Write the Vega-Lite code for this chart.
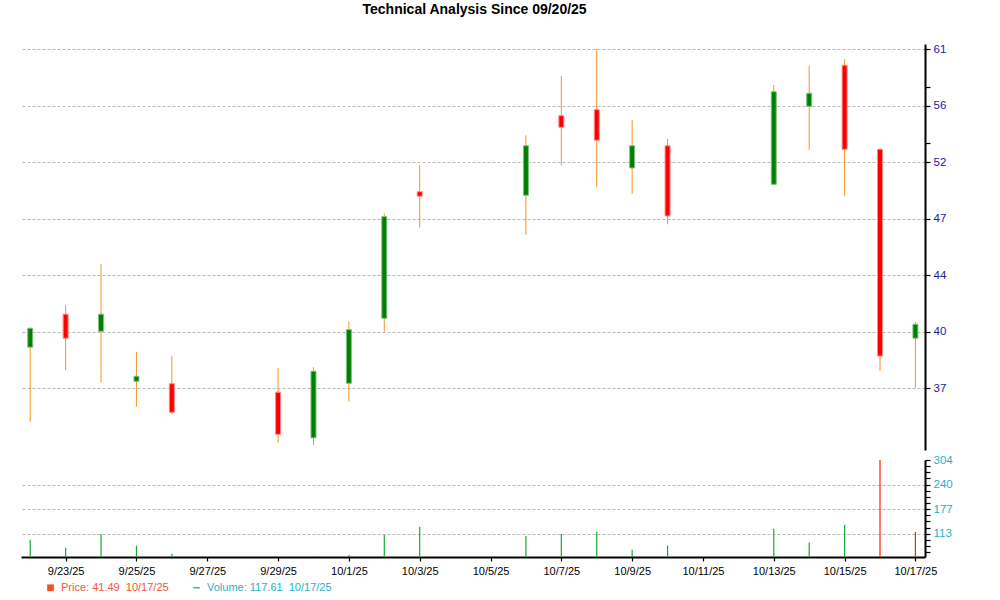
{
  "$schema": "https://vega.github.io/schema/vega-lite/v6.json",
  "padding": {"left": 21, "top": 3, "right": 0, "bottom": 0},
  "background": "white",
  "title": {"text": "Technical Analysis Since 09/20/25", "font": "Liberation Sans", "fontSize": 14, "fontWeight": "bold", "color": "#000000", "anchor": "middle", "offset": 26, "dx": -12},
  "config": {
    "view": {"stroke": null},
    "axis": {"domainColor": "#000000", "domainWidth": 2, "tickColor": "#000000", "tickWidth": 1.2, "tickSize": 5, "labelFont": "Liberation Sans", "labelFontSize": 11, "gridColor": "#b8b8b8", "gridDash": [3, 2], "gridWidth": 1}
  },
  "datasets": {
    "ohlc": [
      {"date": "2025-09-22", "open": 39.21, "high": 40.38, "low": 35.12, "close": 40.32, "volume": 97.5, "vdir": "up"},
      {"date": "2025-09-23", "open": 41.17, "high": 41.72, "low": 37.89, "close": 39.73, "volume": 76.7, "vdir": "up"},
      {"date": "2025-09-24", "open": 40.14, "high": 44.32, "low": 37.21, "close": 41.17, "volume": 112, "vdir": "up"},
      {"date": "2025-09-25", "open": 37.28, "high": 38.92, "low": 35.91, "close": 37.56, "volume": 82, "vdir": "up"},
      {"date": "2025-09-26", "open": 37.15, "high": 38.69, "low": 35.51, "close": 35.61, "volume": 61, "vdir": "up"},
      {"date": "2025-09-29", "open": 36.68, "high": 38.01, "low": 34.05, "close": 34.47, "volume": 53, "vdir": "up"},
      {"date": "2025-09-30", "open": 34.29, "high": 38.06, "low": 33.92, "close": 37.84, "volume": 55, "vdir": "up"},
      {"date": "2025-10-01", "open": 37.17, "high": 40.74, "low": 36.18, "close": 40.24, "volume": 58, "vdir": "up"},
      {"date": "2025-10-02", "open": 40.92, "high": 47.79, "low": 40.12, "close": 47.55, "volume": 110.4, "vdir": "up"},
      {"date": "2025-10-03", "open": 49.34, "high": 51.31, "low": 46.79, "close": 49.01, "volume": 131, "vdir": "up"},
      {"date": "2025-10-06", "open": 49.08, "high": 53.63, "low": 46.3, "close": 52.81, "volume": 107, "vdir": "up"},
      {"date": "2025-10-07", "open": 55.21, "high": 58.54, "low": 51.28, "close": 54.27, "volume": 112, "vdir": "up"},
      {"date": "2025-10-08", "open": 55.7, "high": 60.9, "low": 49.71, "close": 53.24, "volume": 118, "vdir": "up"},
      {"date": "2025-10-09", "open": 51.1, "high": 54.86, "low": 49.18, "close": 52.81, "volume": 71.5, "vdir": "up"},
      {"date": "2025-10-10", "open": 52.81, "high": 53.34, "low": 47.02, "close": 47.6, "volume": 82, "vdir": "up"},
      {"date": "2025-10-13", "open": 49.88, "high": 57.77, "low": 49.85, "close": 57.2, "volume": 126, "vdir": "up"},
      {"date": "2025-10-14", "open": 55.98, "high": 59.42, "low": 52.5, "close": 57.07, "volume": 90, "vdir": "up"},
      {"date": "2025-10-15", "open": 59.48, "high": 60.03, "low": 49.05, "close": 52.53, "volume": 136, "vdir": "up"},
      {"date": "2025-10-16", "open": 52.53, "high": 52.6, "low": 37.86, "close": 38.7, "volume": 304, "vdir": "down"},
      {"date": "2025-10-17", "open": 39.73, "high": 40.7, "low": 36.93, "close": 40.56, "volume": 117.61, "vdir": "down"}
    ]
  },
  "spacing": 4,
  "vconcat": [
    {
      "width": 904,
      "height": 406,
      "data": {"name": "ohlc"},
      "encoding": {
        "x": {"field": "date", "type": "temporal", "scale": {"type": "utc", "padding": 0, "domain": [{"year": 2025, "month": 9, "date": 21, "hours": 17, "minutes": 45, "utc": true}, {"year": 2025, "month": 10, "date": 17, "hours": 6, "minutes": 30, "utc": true}]}, "axis": null}
      },
      "layer": [
        {
          "mark": {"type": "rule", "color": "#f7941e", "strokeWidth": 1},
          "encoding": {
            "y": {"field": "low", "type": "quantitative", "scale": {"type": "log", "domain": [33.68, 61.38], "nice": false, "padding": 0},
              "axis": {"orient": "right", "title": null, "values": [36.9, 40.11, 43.61, 47.41, 51.54, 56.02, 60.9, 57.6, 53.0],
                "labelExpr": "datum.value == 57.6 || datum.value == 53 ? '' : format(datum.value, '.0f')",
                "gridOpacity": {"condition": {"test": "datum.value == 57.6 || datum.value == 53", "value": 0}, "value": 1},
                "labelColor": "#1a1aa6", "labelFontSize": 11.5, "labelPadding": 3}},
            "y2": {"field": "high"}
          }
        },
        {
          "mark": {"type": "bar", "size": 5, "strokeWidth": 1},
          "encoding": {
            "y": {"field": "open", "type": "quantitative", "scale": {"type": "log", "domain": [33.68, 61.38], "nice": false, "padding": 0},
              "axis": {"orient": "right", "title": null, "values": [36.9, 40.11, 43.61, 47.41, 51.54, 56.02, 60.9, 57.6, 53.0],
                "labelExpr": "datum.value == 57.6 || datum.value == 53 ? '' : format(datum.value, '.0f')",
                "gridOpacity": {"condition": {"test": "datum.value == 57.6 || datum.value == 53", "value": 0}, "value": 1},
                "labelColor": "#1a1aa6", "labelFontSize": 11.5, "labelPadding": 3}},
            "y2": {"field": "close"},
            "fill": {"condition": {"test": "datum.close >= datum.open", "value": "#008000"}, "value": "#ff0000"},
            "stroke": {"condition": {"test": "datum.close >= datum.open", "value": "#80c080"}, "value": "#ff8c8c"}
          }
        }
      ]
    },
    {
      "width": 904,
      "height": 97,
      "layer": [
        {
          "data": {"name": "ohlc"},
          "mark": {"type": "rule", "strokeWidth": 1.2},
          "encoding": {
            "x": {"field": "date", "type": "temporal", "scale": {"type": "utc", "padding": 0, "domain": [{"year": 2025, "month": 9, "date": 21, "hours": 17, "minutes": 45, "utc": true}, {"year": 2025, "month": 10, "date": 17, "hours": 6, "minutes": 30, "utc": true}]},
              "axis": {"title": null, "format": "%-m/%-d/%y", "grid": false, "tickSize": 4, "labelPadding": 4, "labelColor": "#000000", "labelFontSize": 11,
                "values": [
                  {"year": 2025, "month": 9, "date": 23, "utc": true},
                  {"year": 2025, "month": 9, "date": 25, "utc": true},
                  {"year": 2025, "month": 9, "date": 27, "utc": true},
                  {"year": 2025, "month": 9, "date": 29, "utc": true},
                  {"year": 2025, "month": 10, "date": 1, "utc": true},
                  {"year": 2025, "month": 10, "date": 3, "utc": true},
                  {"year": 2025, "month": 10, "date": 5, "utc": true},
                  {"year": 2025, "month": 10, "date": 7, "utc": true},
                  {"year": 2025, "month": 10, "date": 9, "utc": true},
                  {"year": 2025, "month": 10, "date": 11, "utc": true},
                  {"year": 2025, "month": 10, "date": 13, "utc": true},
                  {"year": 2025, "month": 10, "date": 15, "utc": true},
                  {"year": 2025, "month": 10, "date": 17, "utc": true}
                ]}},
            "y": {"field": "volume", "type": "quantitative", "scale": {"domain": [52.6, 304], "nice": false, "zero": false},
              "axis": {"orient": "right", "title": null,
                "values": [65.25, 81.167, 97.083, 113, 128.917, 144.833, 160.75, 176.667, 192.583, 208.5, 224.417, 240.333, 256.25, 272.167, 288.083, 304],
                "labelExpr": "datum.value == 113 || datum.value == 176.667 || datum.value == 240.333 || datum.value == 304 ? format(datum.value, '.0f') : ''",
                "gridOpacity": {"condition": {"test": "datum.value == 113 || datum.value == 176.667 || datum.value == 240.333", "value": 1}, "value": 0},
                "labelColor": "#1fb1c6", "labelFontSize": 11.5, "labelPadding": 3}},
            "y2": {"datum": 52.6},
            "color": {"condition": {"test": "datum.vdir == 'up'", "value": "#1aa83a"}, "value": "#ff2200"}
          }
        },
        {
          "data": {"values": [{"series": "Price: 41.49\u00a0 10/17/25"}, {"series": "Volume: 117.61\u00a0 10/17/25"}]},
          "mark": {"type": "point", "filled": true, "clip": true, "opacity": 1},
          "encoding": {
            "x": {"datum": {"year": 2025, "month": 9, "date": 1, "utc": true}, "type": "temporal"},
            "color": {"field": "series", "type": "nominal",
              "scale": {"domain": ["Price: 41.49\u00a0 10/17/25", "Volume: 117.61\u00a0 10/17/25"], "range": ["#f4511e", "#1fb1c6"]},
              "legend": {"orient": "none", "legendX": 24, "legendY": 538, "direction": "horizontal", "title": null, "labelFont": "Liberation Sans", "labelFontSize": 11,
                "labelColor": {"expr": "indexof(datum.label, 'Price') == 0 ? '#f2553a' : '#1fb1c6'"},
                "symbolSize": 45, "symbolStrokeWidth": 0, "symbolOpacity": 1, "columnPadding": 22, "labelOffset": 5}},
            "shape": {"field": "series", "type": "nominal",
              "scale": {"domain": ["Price: 41.49\u00a0 10/17/25", "Volume: 117.61\u00a0 10/17/25"], "range": ["square", "M-1,-0.2H1V0.2H-1Z"]}}
          }
        }
      ]
    }
  ]
}
